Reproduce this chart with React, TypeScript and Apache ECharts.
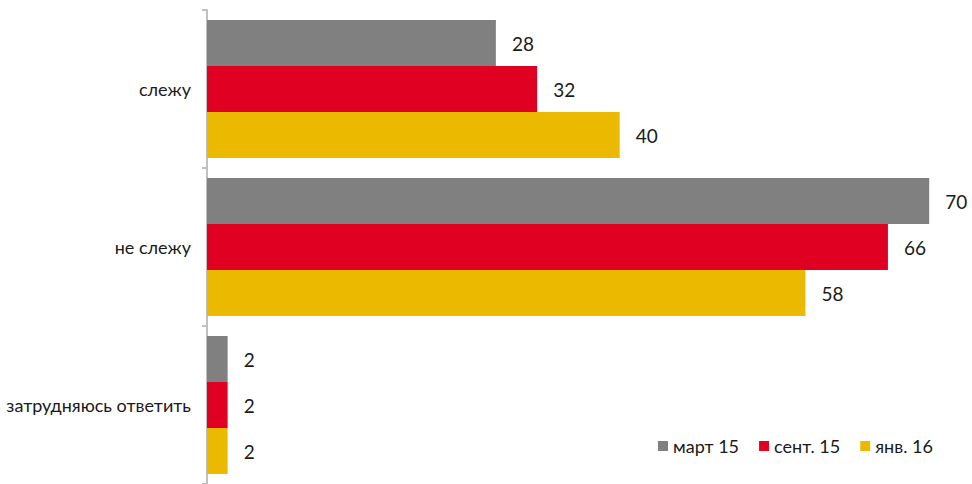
import React, { useEffect, useRef } from "react";
import * as echarts from "echarts";

const categories = ["слежу", "не слежу", "затрудняюсь ответить"];
const seriesNames = ["март 15", "сент. 15", "янв. 16"];
const mar15 = [28, 70, 2];
const sep15 = [32, 66, 2];
const jan16 = [40, 58, 2];
const colors = ["#808080", "#E00022", "#EBBA00"];

const FONT = "Lato, Roboto, sans-serif";

export default function App() {
  const ref = useRef<HTMLDivElement>(null);
  useEffect(() => {
    if (!ref.current) return;
    const chart = echarts.init(ref.current, undefined, { renderer: "svg" });
    const data = [mar15, sep15, jan16];
    chart.setOption({
      animation: false,
      backgroundColor: "#ffffff",
      grid: { left: 207, top: 10, width: 748, height: 476 },
      legend: {
        left: 653,
        top: 432,
        itemWidth: 10,
        itemHeight: 10,
        itemGap: 20,
        icon: "rect",
        textStyle: { fontFamily: FONT, fontSize: 18, color: "#1a1a1a" },
        data: seriesNames,
      },
      xAxis: { type: "value", min: 0, max: 72.5, show: false },
      yAxis: {
        type: "category",
        inverse: true,
        data: categories,
        axisLine: { show: true, lineStyle: { color: "#c0c0c0", width: 2 } },
        axisTick: { show: true, length: 5, lineStyle: { color: "#c0c0c0", width: 2 } },
        axisLabel: { margin: 16, fontFamily: FONT, fontSize: 18, color: "#1a1a1a" },
      },
      series: seriesNames.map((name, i) => ({
        name,
        type: "bar",
        data: data[i],
        barWidth: 46,
        barGap: "0%",
        itemStyle: { color: colors[i] },
        label: {
          show: true,
          position: "right",
          distance: 16,
          fontFamily: FONT,
          fontSize: 19,
          color: "#1a1a1a",
        },
      })),
    });
    return () => chart.dispose();
  }, []);
  return (
    <div
      ref={ref}
      style={{ position: "fixed", left: 0, top: 0, width: 972, height: 484 }}
    />
  );
}
